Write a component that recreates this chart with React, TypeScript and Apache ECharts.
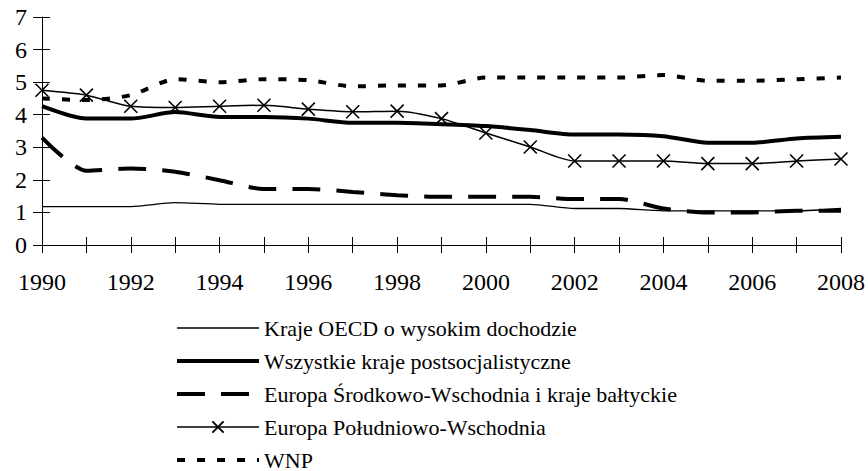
import React, { useEffect, useRef } from "react";
import * as echarts from "echarts";

const years = ["1990","1991","1992","1993","1994","1995","1996","1997","1998","1999","2000","2001","2002","2003","2004","2005","2006","2007","2008"];
const oecd = [1.18,1.18,1.18,1.3,1.25,1.25,1.25,1.25,1.25,1.25,1.25,1.25,1.12,1.12,1.05,1.05,1.05,1.05,1.12];
const wszystkie = [4.26,3.88,3.88,4.08,3.93,3.93,3.88,3.75,3.75,3.71,3.65,3.53,3.39,3.39,3.34,3.14,3.14,3.27,3.32];
const europaSW = [3.3,2.28,2.35,2.25,1.99,1.72,1.72,1.63,1.53,1.48,1.48,1.48,1.41,1.41,1.12,1.0,1.0,1.05,1.05];
const europaPW = [4.75,4.6,4.26,4.22,4.26,4.29,4.17,4.09,4.11,3.88,3.44,3.01,2.58,2.58,2.58,2.5,2.5,2.58,2.64];
const wnp = [4.5,4.45,4.6,5.09,5.0,5.09,5.06,4.87,4.9,4.9,5.14,5.14,5.14,5.14,5.22,5.04,5.04,5.09,5.14];
const names = [
  "Kraje OECD o wysokim dochodzie",
  "Wszystkie kraje postsocjalistyczne",
  "Europa Środkowo-Wschodnia i kraje bałtyckie",
  "Europa Południowo-Wschodnia",
  "WNP",
];

const FONT = "Liberation Serif";
const hidden = { color: "rgba(0,0,0,0)", borderWidth: 0, opacity: 0 };

export default function App() {
  const ref = useRef<HTMLDivElement>(null);
  useEffect(() => {
    if (!ref.current) return;
    const chart = echarts.init(ref.current, null, { renderer: "svg" });
    const base = { type: "line", smooth: 0.25, symbol: "none", xAxisIndex: 0, yAxisIndex: 0 };
    chart.setOption({
      animation: false,
      backgroundColor: "#fff",
      grid: { left: 42, right: 25, top: 17, bottom: 226, containLabel: false },
      legend: {
        orient: "vertical",
        left: 175,
        top: 317,
        height: 170,
        padding: 0,
        itemWidth: 82,
        itemHeight: 14,
        itemGap: 11,
        selectedMode: false,
        textStyle: { fontFamily: FONT, fontSize: 22, color: "#000", lineHeight: 20 },
        data: [
          { name: names[0], itemStyle: hidden, lineStyle: { width: 1.5 } },
          { name: names[1], itemStyle: hidden, lineStyle: { width: 4 } },
          { name: names[2], itemStyle: hidden, lineStyle: { width: 4 } },
          { name: names[3], lineStyle: { width: 1.5 } },
          { name: names[4], itemStyle: hidden, lineStyle: { width: 4 } },
        ],
      },
      xAxis: [
        {
          type: "category",
          data: years,
          boundaryGap: false,
          position: "bottom",
          axisLine: { lineStyle: { color: "#000", width: 1 } },
          axisTick: { show: true, interval: 0, length: 8, lineStyle: { color: "#000" } },
          axisLabel: { interval: 1, margin: 25, fontFamily: FONT, fontSize: 24, color: "#000" },
          splitLine: { show: false },
        },
        {
          type: "category",
          data: years,
          boundaryGap: false,
          position: "bottom",
          axisLine: { show: false },
          axisTick: { show: true, inside: true, interval: 0, length: 8, lineStyle: { color: "#000" } },
          axisLabel: { show: false },
          splitLine: { show: false },
        },
      ],
      yAxis: [
        {
          type: "value",
          min: 0,
          max: 7,
          interval: 1,
          position: "left",
          axisLine: { show: true, lineStyle: { color: "#000", width: 1 } },
          axisTick: { show: true, length: 9, lineStyle: { color: "#000" } },
          axisLabel: { margin: 15, fontFamily: FONT, fontSize: 24, color: "#000" },
          splitLine: { show: false },
        },
        {
          type: "value",
          min: 0,
          max: 7,
          interval: 1,
          position: "left",
          axisLine: { show: false },
          axisTick: { show: true, inside: true, length: 8, lineStyle: { color: "#000" } },
          axisLabel: { show: false },
          splitLine: { show: false },
        },
      ],
      series: [
        { ...base, name: names[0], data: oecd, itemStyle: { color: "#000" }, lineStyle: { color: "#000", width: 1.3 } },
        { ...base, name: names[1], data: wszystkie, itemStyle: { color: "#000" }, lineStyle: { color: "#000", width: 4 } },
        { ...base, name: names[2], data: europaSW, itemStyle: { color: "#000" }, lineStyle: { color: "#000", width: 4, type: [28, 16], cap: "butt" } },
        {
          ...base,
          name: names[3],
          data: europaPW,
          symbol: "path://M0,0L10,10M10,0L0,10",
          symbolSize: 13,
          showSymbol: true,
          itemStyle: { color: "#000", borderColor: "#000", borderWidth: 1.6 },
          lineStyle: { color: "#000", width: 1.5 },
        },
        { ...base, name: names[4], data: wnp, itemStyle: { color: "#000" }, lineStyle: { color: "#000", width: 4, type: [8, 12], cap: "butt" } },
      ],
    });
    return () => chart.dispose();
  }, []);
  return <div ref={ref} style={{ width: 868, height: 471, position: "absolute", left: 0, top: 0 }} />;
}
